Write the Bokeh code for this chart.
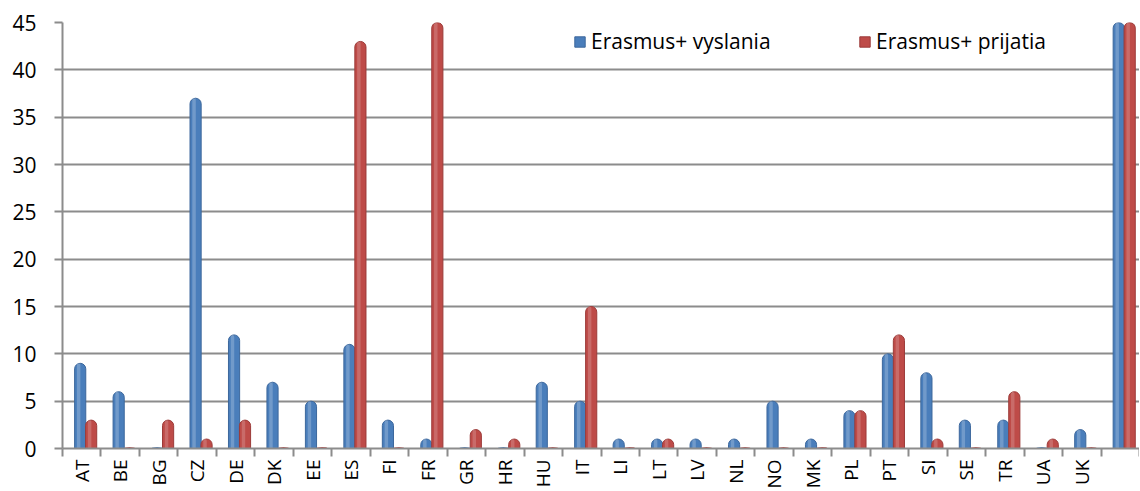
import math
import numpy as np
from bokeh.plotting import figure
from bokeh.models import Range1d, FixedTicker, Legend, LegendItem, ColumnDataSource
from bokeh.embed import file_html
from bokeh.resources import INLINE

countries = ["AT", "BE", "BG", "CZ", "DE", "DK", "EE", "ES", "FI", "FR", "GR", "HR", "HU", "IT",
             "LI", "LT", "LV", "NL", "NO", "MK", "PL", "PT", "SI", "SE", "TR", "UA", "UK", ""]
vyslania = [9, 6, 0, 37, 12, 7, 5, 11, 3, 1, 0, 0, 7, 5, 1, 1, 1, 1, 5, 1, 4, 10, 8, 3, 3, 0, 2, 45]
prijatia = [3, 0, 3, 1, 3, 0, 0, 43, 0, 45, 2, 1, 0, 15, 0, 1, 0, 0, 0, 0, 4, 12, 1, 0, 6, 1, 0, 45]
y_ticks = [0, 5, 10, 15, 20, 25, 30, 35, 40, 45]
series_names = ["Erasmus+ vyslania", "Erasmus+ prijatia"]

BLUE = "#4a7ebb"
BLUE_EDGE = "#3c679c"
RED = "#be4b48"
RED_EDGE = "#9c3b39"
GRAY = "#8c8c8c"
FONT = "Open Sans"

n = len(countries)
centers = np.arange(n) + 0.5
bounds = list(np.arange(n + 1).astype(float))

src = ColumnDataSource(dict(
    xb=centers - 0.04, xr=centers + 0.245, vb=vyslania, vr=prijatia,
    hb=centers - 0.04 - 0.04, hr=centers + 0.245 - 0.04,
    zero=[0] * n,
))

p = figure(frame_width=1077, frame_height=426, x_range=Range1d(0, n), y_range=Range1d(0, 45),
           output_backend="svg", toolbar_location=None,
           min_border_left=62, min_border_right=0, min_border_top=22, min_border_bottom=42)
p.outline_line_color = None
p.background_fill_color = "white"
p.border_fill_color = "white"

# grid
p.xgrid.grid_line_color = None
p.ygrid.ticker = FixedTicker(ticks=y_ticks)
p.ygrid.grid_line_color = GRAY
p.ygrid.grid_line_width = 2

# y axis
ya = p.yaxis[0]
ya.ticker = FixedTicker(ticks=y_ticks)
ya.axis_line_color = GRAY
ya.axis_line_width = 2
ya.major_tick_line_color = GRAY
ya.major_tick_line_width = 2
ya.major_tick_out = 8
ya.major_tick_in = 0
ya.minor_tick_line_color = None
ya.major_label_text_font = FONT
ya.major_label_text_font_size = "21px"
ya.major_label_text_color = "black"
ya.major_label_standoff = 18

# x axis
xa = p.xaxis[0]
xa.ticker = FixedTicker(ticks=list(centers), minor_ticks=bounds)
xa.major_label_overrides = {float(c): name for c, name in zip(centers, countries)}
xa.major_label_orientation = float(math.pi / 2)
xa.axis_line_color = GRAY
xa.axis_line_width = 2
xa.major_tick_line_color = None
xa.major_tick_out = 0
xa.major_tick_in = 0
xa.minor_tick_line_color = GRAY
xa.minor_tick_line_width = 2
xa.minor_tick_out = 8
xa.minor_tick_in = 0
xa.major_label_text_font = FONT
xa.major_label_text_font_size = "19px"
xa.major_label_text_color = "black"
xa.major_label_standoff = 3

# bars
W = 0.29
p.ellipse(x="xb", y="zero", width=11, height=3, width_units="screen", height_units="screen",
          source=src, fill_color=BLUE, line_color=None)
p.ellipse(x="xr", y="zero", width=11, height=3, width_units="screen", height_units="screen",
          source=src, fill_color=RED, line_color=None)
rb = p.vbar(x="xb", top="vb", width=W, source=src, fill_color=BLUE, line_color=BLUE_EDGE,
            line_width=1, border_radius=(6, 6, 0, 0))
rr = p.vbar(x="xr", top="vr", width=W, source=src, fill_color=RED, line_color=RED_EDGE,
            line_width=1, border_radius=(6, 6, 0, 0))
# cylinder highlight
p.vbar(x="hb", top="vb", width=0.09, source=src, fill_color="white", fill_alpha=0.22,
       line_color=None, border_radius=(2, 2, 0, 0))
p.vbar(x="hr", top="vr", width=0.09, source=src, fill_color="white", fill_alpha=0.18,
       line_color=None, border_radius=(2, 2, 0, 0))

legend = Legend(items=[LegendItem(label=series_names[0], renderers=[rb]),
                       LegendItem(label=series_names[1], renderers=[rr])],
                orientation="horizontal", location=(511, 393))
legend.border_line_color = None
legend.background_fill_alpha = 0
legend.label_text_font = FONT
legend.label_text_font_size = "21px"
legend.label_text_color = "black"
legend.glyph_width = 13
legend.glyph_height = 13
legend.label_standoff = 5
legend.label_width = 267
legend.spacing = 0
legend.padding = 0
legend.margin = 0
p.add_layout(legend)

open("out.html", "w").write(file_html(p, INLINE))
